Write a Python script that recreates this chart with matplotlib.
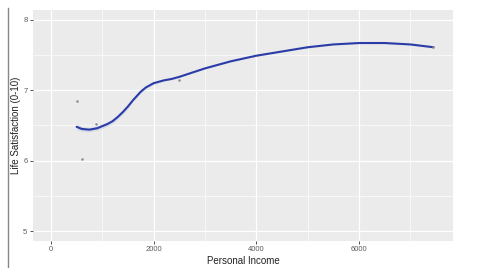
import matplotlib
matplotlib.use("Agg")
import matplotlib.pyplot as plt
from matplotlib.lines import Line2D

plt.rcParams["font.family"] = ["Liberation Sans", "DejaVu Sans"]

# --- data ---
income_pts = [500, 600, 880, 2500, 7450]
satis_pts = [6.84, 6.03, 6.52, 7.15, 7.61]

curve_x = [500, 600, 750, 900, 1000, 1100, 1200, 1300, 1400, 1500, 1600, 1700, 1750,
           1800, 1850, 1900, 1950, 2000, 2100, 2200, 2350, 2500, 2750, 3000, 3500,
           4000, 4500, 5000, 5500, 6000, 6500, 7000, 7450]
curve_y = [6.48, 6.45, 6.44, 6.46, 6.49, 6.52, 6.56, 6.62, 6.69, 6.77, 6.86, 6.94, 6.98,
           7.01, 7.04, 7.06, 7.08, 7.10, 7.12, 7.14, 7.16, 7.19, 7.25, 7.31, 7.41,
           7.49, 7.55, 7.61, 7.65, 7.67, 7.67, 7.65, 7.61]
band = [0.04, 0.035, 0.03, 0.03, 0.03, 0.03, 0.03, 0.03, 0.03, 0.03, 0.02, 0.02, 0.02,
        0.02, 0.02, 0.02, 0.02, 0.02, 0.015, 0.01, 0.01, 0.01, 0.01, 0.01, 0.01,
        0.01, 0.01, 0.01, 0.01, 0.01, 0.01, 0.01, 0.01]

x_ticks = [0, 2000, 4000, 6000]
y_ticks = [5, 6, 7, 8]

fig = plt.figure(figsize=(5.0, 2.68), dpi=100)
ax = fig.add_axes([0.066, 0.101, 0.840, 0.862])
ax.set_facecolor("#EBEBEB")

ax.set_xlim(-350, 7830)
ax.set_ylim(4.86, 8.14)
ax.set_xticks(x_ticks)
ax.set_yticks(y_ticks)
ax.set_xticks([1000, 3000, 5000, 7000], minor=True)
ax.set_yticks([5.5, 6.5, 7.5], minor=True)
ax.grid(True, which="major", color="white", linewidth=0.9)
ax.grid(True, which="minor", color="white", linewidth=0.45)
ax.set_axisbelow(True)
for s in ax.spines.values():
    s.set_visible(False)
ax.tick_params(which="major", length=2, width=0.6, color="#333333",
               labelsize=5.5, labelcolor="#5A5A5A", pad=2)
ax.tick_params(which="minor", length=0)

lo = [y - b for y, b in zip(curve_y, band)]
hi = [y + b for y, b in zip(curve_y, band)]
ax.fill_between(curve_x, lo, hi, color="#C8CCE6", alpha=0.6, linewidth=0)
ax.plot(curve_x, curve_y, color="#2B3CA8", linewidth=1.5, solid_capstyle="round")
ax.scatter(income_pts, satis_pts, s=0.6, color="#888888", zorder=3)

ax.set_xlabel("Personal Income", fontsize=7, color="#222222", labelpad=2)
ax.set_ylabel("Life Satisfaction (0-10)", fontsize=7, color="#222222")
ax.yaxis.set_label_coords(-0.028, 0.5)

# thin gray rule on the left edge
fig.add_artist(Line2D([0.016, 0.016], [0.0, 0.97], color="#888888", linewidth=1.0,
                      transform=fig.transFigure))

fig.savefig("out.png", dpi=100)
